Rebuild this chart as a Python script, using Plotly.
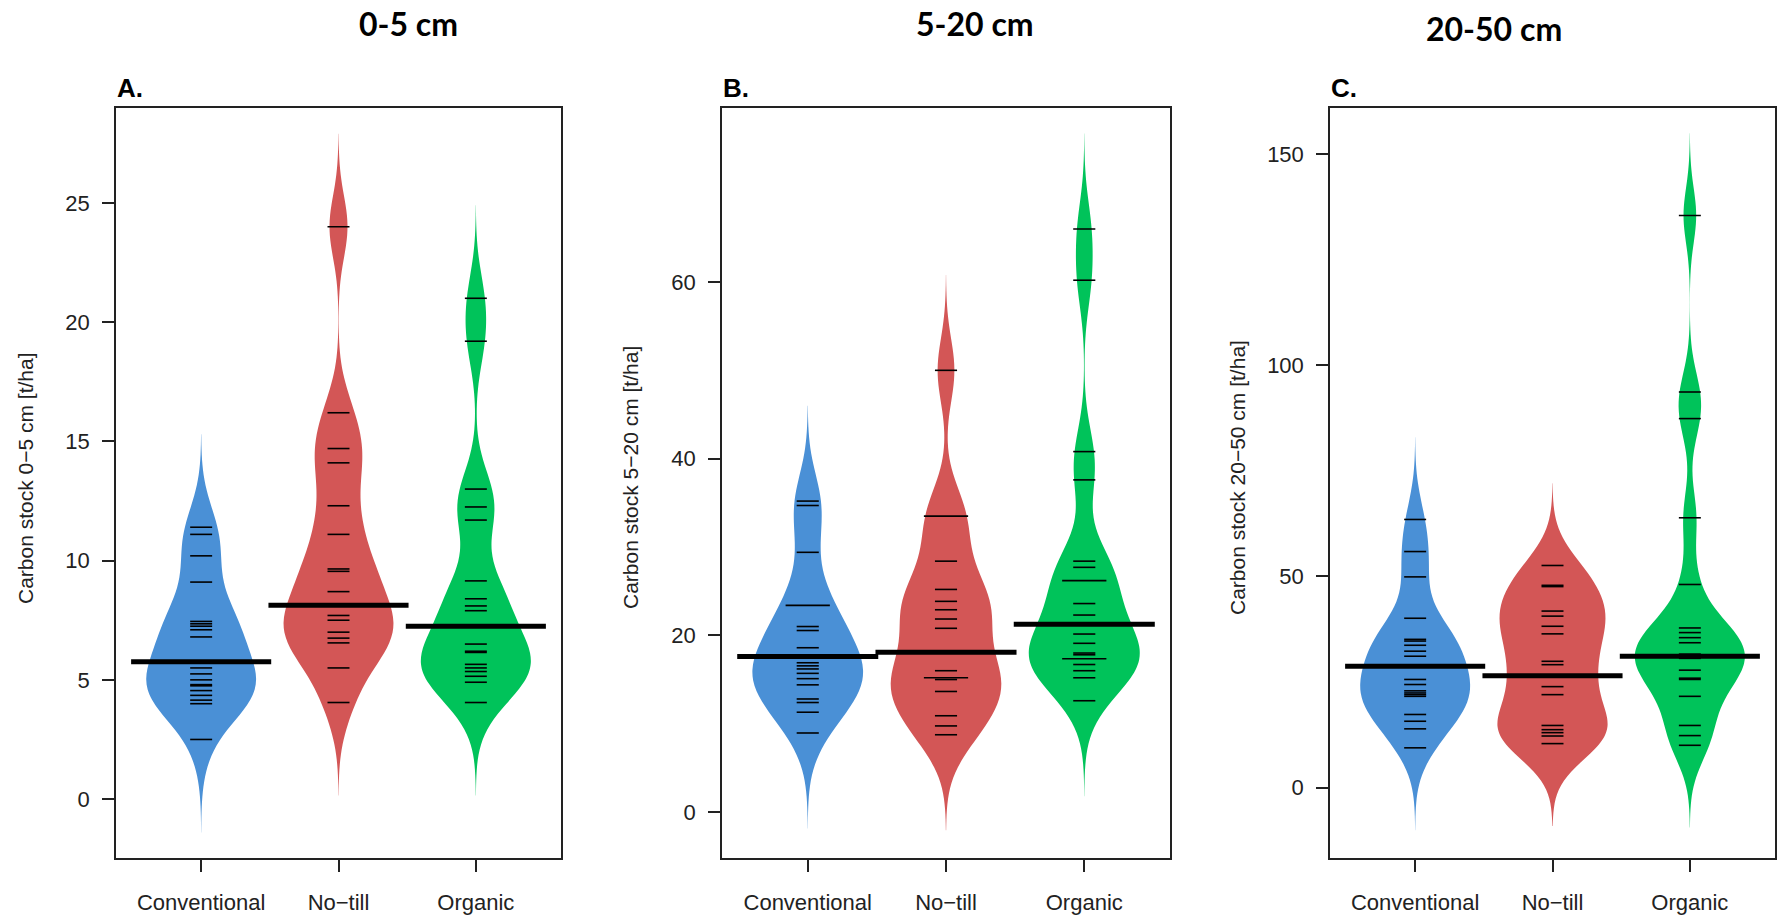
import plotly.graph_objects as go

# ---------------- data ----------------
categories = ["Conventional", "No\u2212till", "Organic"]
panel_titles = ["0-5 cm", "5-20 cm", "20-50 cm"]
panel_letters = ["A.", "B.", "C."]
y_titles = ["Carbon stock 0\u22125 cm [t/ha]",
            "Carbon stock 5\u221220 cm [t/ha]",
            "Carbon stock 20\u221250 cm [t/ha]"]

# Panel A: 0-5 cm
A_conventional = [11.4, 11.1, 10.2, 9.1, 7.45, 7.35, 7.25, 7.1, 6.8, 5.5, 5.25,
                  5.0, 4.8, 4.75, 4.55, 4.35, 4.15, 4.0, 2.5]
A_notill = [24.0, 16.2, 14.7, 14.1, 12.3, 11.1, 9.65, 9.55, 8.7, 7.7, 7.5, 7.0,
            6.75, 6.55, 5.5, 4.05]
A_organic = [21.0, 19.2, 13.0, 12.25, 11.7, 9.15, 8.4, 8.1, 7.9, 6.5, 6.2, 6.15,
             5.65, 5.5, 5.35, 5.15, 4.9, 4.05]
A_averages = [5.76, 8.13, 7.25]

# Panel B: 5-20 cm
B_conventional = [35.2, 34.7, 29.4, 23.4, 23.4, 21.0, 20.55, 18.6, 16.9, 16.55,
                  16.2, 15.7, 15.1, 14.4, 12.8, 12.4, 11.3, 8.95]
B_notill = [50.0, 33.5, 33.5, 28.4, 25.2, 23.85, 22.9, 21.85, 20.8, 16.0, 15.2,
            15.2, 15.0, 13.65, 10.9, 9.75, 8.75]
B_organic = [66.0, 60.2, 40.8, 37.6, 28.4, 27.7, 26.2, 26.2, 23.6, 22.3, 20.15,
             19.1, 18.0, 17.8, 17.35, 17.35, 16.7, 16.0, 15.2, 12.6]
B_averages = [17.6, 18.1, 21.25]

# Panel C: 20-50 cm
C_conventional = [63.5, 55.9, 49.9, 40.1, 35.1, 34.7, 33.7, 32.3, 31.1, 25.6,
                  24.4, 22.9, 22.4, 22.0, 21.6, 17.3, 15.7, 13.9, 9.4]
C_notill = [52.6, 47.9, 47.6, 41.8, 40.6, 38.2, 36.4, 29.9, 29.1, 23.9, 22.0,
            14.7, 13.7, 13.0, 12.2, 10.4]
C_organic = [135.5, 93.7, 87.4, 63.9, 48.1, 37.8, 36.7, 35.5, 34.3, 31.6, 31.0,
             30.6, 27.8, 25.9, 25.6, 21.6, 14.7, 12.3, 10.0]
C_averages = [28.75, 26.5, 31.1]

y_ticks_A = [0, 5, 10, 15, 20, 25]
y_ticks_B = [0, 20, 40, 60]
y_ticks_C = [0, 50, 100, 150]

# ---------------- styling ----------------
colors = ["#4A90D6", "#D35656", "#00C35A"]
bandwidths = [1.3, 3.6, 6.5]
y_ranges = [[-2.47, 29.0], [-5.2, 79.75], [-16.7, 161.1]]
x_range = [0.38, 3.62]
W, H = 1786, 917
frames_px = [(116, 561), (722, 1170), (1330, 1775)]
frame_top, frame_bottom = 107.5, 858
ytitle_x_px = [26, 631, 1238]
title_pos_px = [(408, 24), (975, 24), (1494, 28)]
ink = "#222222"
tick_font = dict(family="Liberation Sans, Arial, sans-serif", size=22, color=ink)
ytitle_font = dict(family="Liberation Sans, Arial, sans-serif", size=21, color=ink)

panels = [
    ([A_conventional, A_notill, A_organic], A_averages, y_ticks_A),
    ([B_conventional, B_notill, B_organic], B_averages, y_ticks_B),
    ([C_conventional, C_notill, C_organic], C_averages, y_ticks_C),
]

fig = go.Figure()
annotations = []
layout_axes = {}

for p, (groups, averages, yticks) in enumerate(panels):
    sfx = "" if p == 0 else str(p + 1)
    xa, ya = "x" + sfx, "y" + sfx
    bw = bandwidths[p]

    for i, vals in enumerate(groups):
        fig.add_trace(go.Violin(
            y=vals, x0=i + 1, xaxis=xa, yaxis=ya,
            width=0.8, scalegroup="panel" + str(p), scalemode="width",
            bandwidth=bw, spanmode="manual",
            span=[min(vals) - 3 * bw, max(vals) + 3 * bw],
            fillcolor=colors[i], line=dict(width=0, color=colors[i]),
            opacity=1, points=False, box=dict(visible=False),
            meanline=dict(visible=False), showlegend=False, hoverinfo="skip",
        ))

    # bean lines (length grows with duplicates)
    lx, ly = [], []
    for i, vals in enumerate(groups):
        counts = {}
        for v in vals:
            counts[v] = counts.get(v, 0) + 1
        for v, c in counts.items():
            half = 0.08 * c
            lx += [i + 1 - half, i + 1 + half, None]
            ly += [v, v, None]
    fig.add_trace(go.Scatter(x=lx, y=ly, xaxis=xa, yaxis=ya, mode="lines",
                             line=dict(color="black", width=1.6),
                             showlegend=False, hoverinfo="skip"))

    # bean average lines
    mx, my = [], []
    for i, a in enumerate(averages):
        mx += [i + 1 - 0.51, i + 1 + 0.51, None]
        my += [a, a, None]
    fig.add_trace(go.Scatter(x=mx, y=my, xaxis=xa, yaxis=ya, mode="lines",
                             line=dict(color="black", width=5),
                             showlegend=False, hoverinfo="skip"))

    x0px, x1px = frames_px[p]
    common = dict(showline=True, linecolor=ink, linewidth=1.5, mirror=True,
                  ticks="outside", ticklen=12, tickwidth=1.5, tickcolor=ink,
                  showgrid=False, zeroline=False, tickfont=tick_font)
    layout_axes["xaxis" + sfx] = dict(
        domain=[x0px / W, x1px / W], anchor=ya, range=x_range, type="linear",
        tickmode="array", tickvals=[1, 2, 3], ticktext=categories,
        ticklabelstandoff=12, **common)
    layout_axes["yaxis" + sfx] = dict(
        domain=[1 - frame_bottom / H, 1 - frame_top / H], anchor=xa,
        range=y_ranges[p], tickmode="array", tickvals=yticks,
        ticktext=[str(t) for t in yticks], ticklabelstandoff=8, **common)

    # panel title
    tx, ty = title_pos_px[p]
    annotations.append(dict(
        text=panel_titles[p], x=tx / W, y=1 - ty / H, xref="paper", yref="paper",
        xanchor="center", yanchor="middle", showarrow=False,
        font=dict(family="Lato, Open Sans, sans-serif", size=32, color="black",
                  weight="bold")))
    # panel letter
    annotations.append(dict(
        text="<b>" + panel_letters[p] + "</b>", x=(x0px - 1) / W, y=1 - 105 / H,
        xref="paper", yref="paper", xanchor="left", yanchor="bottom",
        showarrow=False, font=dict(family="Liberation Sans, Arial, sans-serif",
                                   size=26, color="black")))
    # y axis title
    annotations.append(dict(
        text=y_titles[p], x=ytitle_x_px[p] / W, y=1 - 478 / H,
        xref="paper", yref="paper", xanchor="center", yanchor="middle",
        textangle=-90, showarrow=False, font=ytitle_font))

fig.update_layout(
    width=W, height=H, margin=dict(l=0, r=0, t=0, b=0),
    paper_bgcolor="white", plot_bgcolor="white", violinmode="overlay",
    showlegend=False, annotations=annotations, **layout_axes)

fig.write_html("out.html")
